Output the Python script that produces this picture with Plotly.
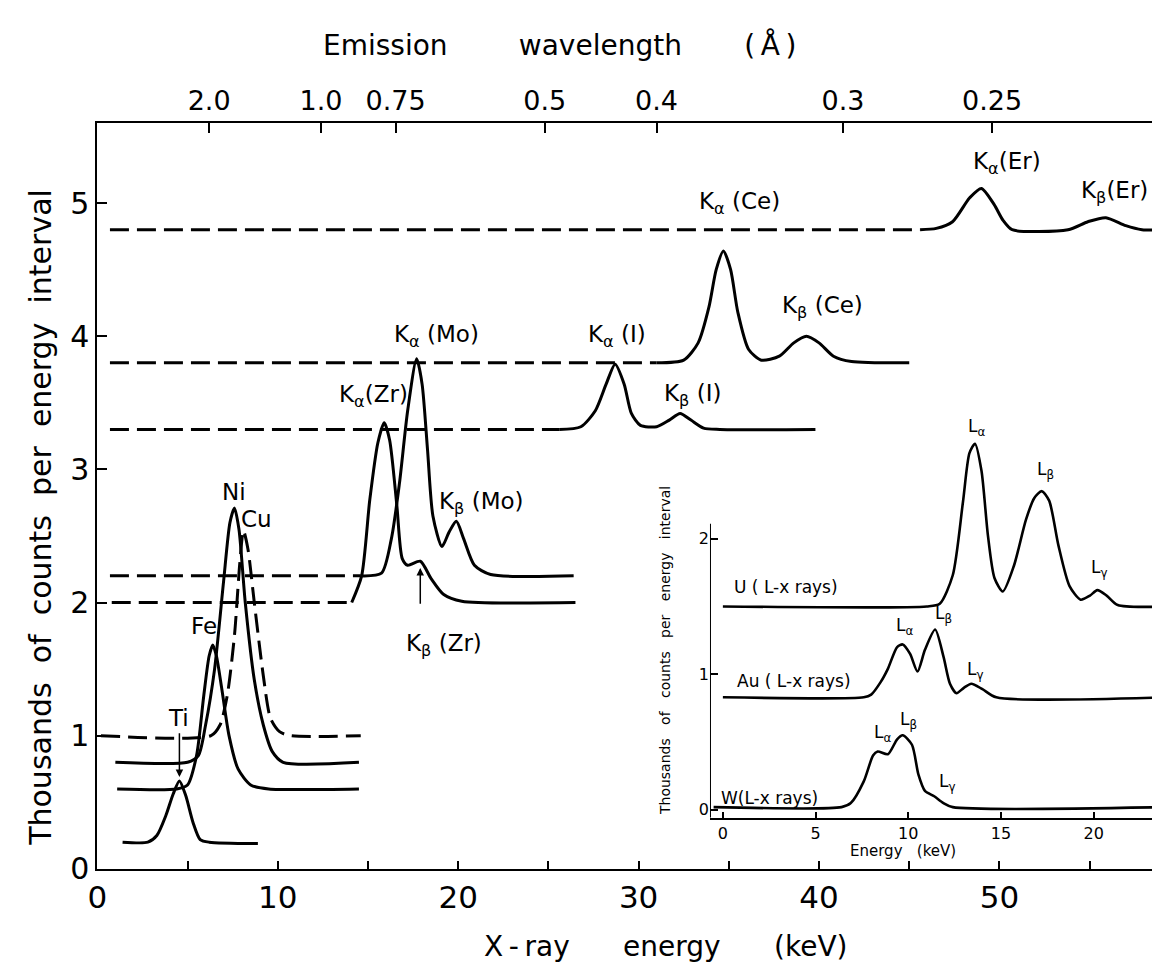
import plotly.graph_objects as go

# ---------------- main panel data (keV, thousands of counts) ----------------
ti_x = [1.4, 2.8, 3.3, 3.8, 4.2, 4.55, 4.9, 5.3, 5.7, 6.2, 8.9]
ti_y = [0.20, 0.20, 0.25, 0.40, 0.56, 0.66, 0.55, 0.35, 0.22, 0.20, 0.19]

fe_x = [1.1, 4.4, 5.0, 5.5, 5.9, 6.2, 6.4, 6.6, 6.9, 7.3, 7.8, 8.5, 9.5, 14.5]
fe_y = [0.60, 0.60, 0.63, 0.85, 1.30, 1.60, 1.68, 1.60, 1.35, 1.00, 0.75, 0.63, 0.60, 0.60]

ni_x = [1.0, 5.0, 5.6, 6.0, 6.5, 7.0, 7.35, 7.6, 7.85, 8.2, 8.7, 9.2, 9.7, 10.3, 14.5]
ni_y = [0.80, 0.80, 0.85, 1.08, 1.50, 2.16, 2.60, 2.71, 2.55, 2.00, 1.42, 1.08, 0.88, 0.80, 0.80]

cu_x = [0.2, 6.3, 6.8, 7.2, 7.6, 7.9, 8.1, 8.35, 8.7, 9.2, 9.6, 10.1, 10.7, 14.6]
cu_y = [1.00, 1.00, 1.08, 1.30, 1.75, 2.30, 2.54, 2.40, 2.00, 1.45, 1.13, 1.03, 1.00, 1.00]

zr_dash_x = [0.8, 14.1]
zr_dash_y = [2.0, 2.0]
zr_x = [14.1, 14.65, 15.1, 15.55, 15.9, 16.2, 16.6, 16.9, 17.2, 17.9, 18.5, 19.2, 20.2, 26.5]
zr_y = [2.00, 2.20, 2.77, 3.20, 3.35, 3.22, 2.73, 2.33, 2.28, 2.31, 2.18, 2.06, 2.01, 2.00]

mo_dash_x = [0.7, 14.6]
mo_dash_y = [2.2, 2.2]
mo_x = [14.6, 15.75, 16.3, 16.75, 17.2, 17.7, 18.0, 18.3, 18.6, 19.1, 19.5, 19.9, 20.3, 20.9, 21.8, 26.4]
mo_y = [2.20, 2.22, 2.48, 2.90, 3.44, 3.83, 3.64, 3.15, 2.65, 2.42, 2.53, 2.61, 2.48, 2.28, 2.21, 2.20]

i_dash_x = [0.7, 25.6]
i_dash_y = [3.3, 3.3]
i_x = [25.6, 26.8, 27.6, 28.2, 28.7, 29.2, 29.6, 30.1, 31.0, 31.7, 32.3, 32.9, 33.6, 34.5, 39.8]
i_y = [3.30, 3.32, 3.44, 3.64, 3.79, 3.64, 3.42, 3.33, 3.32, 3.37, 3.42, 3.37, 3.31, 3.30, 3.30]

ce_dash_x = [0.7, 31.0]
ce_dash_y = [3.8, 3.8]
ce_x = [31.0, 32.5, 33.3, 33.9, 34.3, 34.7, 35.1, 35.5, 36.1, 36.8, 37.8, 38.6, 39.3, 40.0, 40.8, 41.8, 45.0]
ce_y = [3.80, 3.82, 3.95, 4.22, 4.50, 4.64, 4.50, 4.18, 3.90, 3.82, 3.85, 3.95, 4.00, 3.95, 3.85, 3.81, 3.80]

er_dash_x = [0.7, 45.6]
er_dash_y = [4.8, 4.8]
er_x = [45.6, 46.5, 47.4, 48.35, 49.0, 49.7, 50.2, 50.7, 53.8, 54.9, 55.9, 57.0, 57.9, 59.4]
er_y = [4.80, 4.81, 4.86, 5.04, 5.11, 4.99, 4.87, 4.80, 4.80, 4.86, 4.89, 4.83, 4.80, 4.80]

# top axis: emission wavelength (angstrom) -> energy = 12.398 / lambda
wl_vals = [2.0, 1.0, 0.75, 0.5, 0.4, 0.3, 0.25]
wl_text = ["2.0", "1.0", "0.75", "0.5", "0.4", "0.3", "0.25"]

x_major = [0, 10, 20, 30, 40, 50]
y_major = [0, 1, 2, 3, 4, 5]

# ---------------- inset data ----------------
u_x = [0.0, 11.0, 11.7, 12.4, 12.95, 13.3, 13.6, 13.95, 14.3, 14.65, 15.1, 15.7, 16.35, 16.8, 17.2, 17.6,
       18.1, 18.7, 19.3, 19.8, 20.2, 20.7, 21.3, 24.0]
u_y = [1.50, 1.50, 1.52, 1.73, 2.27, 2.63, 2.70, 2.50, 2.02, 1.71, 1.61, 1.80, 2.14, 2.30, 2.35, 2.28,
       1.95, 1.65, 1.55, 1.58, 1.62, 1.58, 1.51, 1.50]

au_x = [0.0, 7.6, 8.0, 8.5, 8.9, 9.4, 9.7, 10.1, 10.5, 10.9, 11.45, 11.9, 12.25, 12.6, 13.0, 13.4, 14.0, 14.75, 24.0]
au_y = [0.83, 0.83, 0.85, 0.94, 1.04, 1.20, 1.22, 1.15, 1.02, 1.18, 1.33, 1.13, 0.93, 0.86, 0.90, 0.93, 0.89, 0.83, 0.83]

w_x = [-0.5, 6.4, 6.9, 7.6, 8.1, 8.35, 8.9, 9.4, 9.7, 10.2, 10.55, 10.9, 11.4, 11.9, 12.4, 24.0]
w_y = [0.02, 0.02, 0.05, 0.21, 0.40, 0.43, 0.41, 0.52, 0.55, 0.48, 0.26, 0.14, 0.10, 0.05, 0.02, 0.02]

inset_x_ticks = [0, 5, 10, 15, 20]
inset_y_ticks = [0, 1, 2]
inset_axis_top = 2.11

FONT = "DejaVu Sans"
NB = "\u00a0"
TH = "\u2009"

fig = go.Figure()


def add(x, y, dash="solid", xa="x", ya="y", w=3.0, smooth=0.7):
    fig.add_trace(go.Scatter(
        x=x, y=y, mode="lines", xaxis=xa, yaxis=ya, showlegend=False, hoverinfo="skip",
        line=dict(color="black", width=w, dash=dash, shape="spline", smoothing=smooth)))


DASH = "19px,8px"
add(ti_x, ti_y)
add(fe_x, fe_y)
add(ni_x, ni_y)
add(cu_x, cu_y, dash=DASH)
add(zr_dash_x, zr_dash_y, dash=DASH)
add(zr_x, zr_y)
add(mo_dash_x, mo_dash_y, dash=DASH)
add(mo_x, mo_y)
add(i_dash_x, i_dash_y, dash=DASH)
add(i_x, i_y)
add(ce_dash_x, ce_dash_y, dash=DASH)
add(ce_x, ce_y)
add(er_dash_x, er_dash_y, dash=DASH)
add(er_x, er_y)

# invisible anchor so the top (wavelength) axis is drawn
fig.add_trace(go.Scatter(x=[12.398 / wl_vals[0]], y=[0], xaxis="x2", yaxis="y", mode="markers",
                         marker=dict(opacity=0), showlegend=False, hoverinfo="skip"))

add(u_x, u_y, xa="x3", ya="y3", w=2.6)
add(au_x, au_y, xa="x3", ya="y3", w=2.6)
add(w_x, w_y, xa="x3", ya="y3", w=2.6)

W, H = 1160, 980
px0, kev_px = 80, 18.2
xmax = (W - px0) / kev_px
y_bot, y_top = 876, 117
ymax = (y_bot - y_top) / 135.5

ins_x0_px, ins_zero_px, ins_kev_px = 698, 711, 18.7
ins_bot, ins_top_dom, ins_unit, ins_zero_y = 824, 400, 138.0, 816
ins_xmin = (ins_x0_px - ins_zero_px) / ins_kev_px
ins_ymin = (ins_zero_y - ins_bot) / ins_unit

ax_common = dict(showgrid=False, zeroline=False, linecolor="black", linewidth=2,
                 ticks="inside", tickcolor="black", tickwidth=2)

fig.update_layout(
    width=W, height=H, margin=dict(l=0, r=0, t=0, b=0),
    paper_bgcolor="white", plot_bgcolor="rgba(0,0,0,0)",
    font=dict(family=FONT, color="black"),
    xaxis=dict(domain=[px0 / W, 1.0], range=[0, xmax], anchor="y", showline=True,
               tickvals=[v for v in range(0, 60, 5)],
               ticktext=[str(v) if v in x_major else "" for v in range(0, 60, 5)],
               ticklen=8, tickfont=dict(size=31, family=FONT), **ax_common),
    xaxis2=dict(overlaying="x", side="top", anchor="y", range=[0, xmax], showline=True,
                tickvals=[12.398 / v for v in wl_vals], ticktext=wl_text,
                ticklen=10, tickfont=dict(size=27, family=FONT), **ax_common),
    yaxis=dict(domain=[(H - y_bot) / H, (H - y_top) / H], range=[0, ymax], anchor="x", showline=True,
               tickvals=y_major, ticktext=[str(v) for v in y_major],
               ticklen=10, tickfont=dict(size=30, family=FONT), **ax_common),
    xaxis3=dict(domain=[ins_x0_px / W, 1.0], anchor="y3", showline=True,
                range=[ins_xmin, (W - ins_zero_px) / ins_kev_px],
                tickvals=inset_x_ticks, ticktext=[str(v) for v in inset_x_ticks],
                ticklen=6, tickfont=dict(size=16, family=FONT), **ax_common),
    yaxis3=dict(domain=[(H - ins_bot) / H, (H - ins_top_dom) / H], anchor="x3", showline=False,
                range=[ins_ymin, (ins_zero_y - ins_top_dom) / ins_unit],
                tickvals=inset_y_ticks, ticktext=[str(v) for v in inset_y_ticks],
                ticklen=8, tickfont=dict(size=16, family=FONT), **ax_common),
)

# inset left axis line (shorter than the inset's plotting height, peaks rise above it)
fig.add_shape(type="line", xref="x3", yref="y3", x0=ins_xmin, x1=ins_xmin, y0=ins_ymin, y1=inset_axis_top,
              line=dict(color="black", width=2))


# ---------------- text ----------------
def note(text, x, y, size=23, xref="x", yref="y", angle=0, xanchor="center"):
    fig.add_annotation(text=text, x=x, y=y, xref=xref, yref=yref, showarrow=False,
                       xanchor=xanchor, yanchor="middle",
                       textangle=angle, font=dict(size=size, family=FONT, color="black"))


note((NB * 2).join("Thousands of counts per energy interval".split(" ")), 22 / W, 1 - 518 / H,
     size=30, xref="paper", yref="paper", angle=-90)
note("X" + TH + "-" + TH + "ray" + NB * 6 + "energy" + NB * 6 + "(keV)", 468 / W, 1 - 955 / H,
     size=28, xref="paper", yref="paper", xanchor="left")
note("Emission" + NB * 8 + "wavelength" + NB * 7 + "(" + TH + "Å" + TH + ")", 306 / W, 1 - 38 / H,
     size=28, xref="paper", yref="paper", xanchor="left")

lab = 23
note("Ti", 4.5, 1.13, size=lab)
note("Fe", 5.93, 1.82, size=lab)
note("Ni", 7.58, 2.83, size=lab)
note("Cu", 8.8, 2.63, size=lab)
note("K<sub>α</sub>(Zr)", 15.3, 3.55, size=lab)
note("K<sub>α</sub>" + NB + "(Mo)", 18.8, 4.0, size=lab)
note("K<sub>β</sub>" + NB + "(Mo)", 21.3, 2.75, size=lab)
note("K<sub>β</sub>" + NB + "(Zr)", 19.2, 1.68, size=lab)
note("K<sub>α</sub>" + NB + "(I)", 28.8, 4.0, size=lab)
note("K<sub>β</sub>" + NB + "(I)", 33.0, 3.56, size=lab)
note("K<sub>α</sub>" + NB + "(Ce)", 35.6, 5.0, size=lab)
note("K<sub>β</sub>" + NB + "(Ce)", 40.2, 4.22, size=lab)
note("K<sub>α</sub>(Er)", 50.4, 5.30, size=lab)
note("K<sub>β</sub>(Er)", 56.4, 5.08, size=lab)

# arrows (Ti and K-beta Zr)
fig.add_annotation(x=4.55, y=0.69, ax=4.55, ay=1.03, xref="x", yref="y", axref="x", ayref="y",
                   text="", showarrow=True, arrowhead=2, arrowsize=1, arrowwidth=1.5, arrowcolor="black")
fig.add_annotation(x=17.9, y=2.26, ax=17.9, ay=1.98, xref="x", yref="y", axref="x", ayref="y",
                   text="", showarrow=True, arrowhead=2, arrowsize=1, arrowwidth=1.5, arrowcolor="black")

# inset text
il = 17
note("U" + NB + "(" + NB + "L-x" + NB + "rays)", 3.4, 1.64, size=17, xref="x3", yref="y3")
note("Au" + NB + "(" + NB + "L-x" + NB + "rays)", 3.85, 0.95, size=17, xref="x3", yref="y3")
note("W(L-x" + NB + "rays)", 2.5, 0.09, size=17, xref="x3", yref="y3")
note("L<sub>α</sub>", 13.7, 2.82, size=il, xref="x3", yref="y3")
note("L<sub>β</sub>", 17.4, 2.50, size=il, xref="x3", yref="y3")
note("L<sub>γ</sub>", 20.3, 1.78, size=il, xref="x3", yref="y3")
note("L<sub>α</sub>", 9.8, 1.35, size=il, xref="x3", yref="y3")
note("L<sub>β</sub>", 11.9, 1.44, size=il, xref="x3", yref="y3")
note("L<sub>γ</sub>", 13.6, 1.03, size=il, xref="x3", yref="y3")
note("L<sub>α</sub>", 8.6, 0.56, size=il, xref="x3", yref="y3")
note("L<sub>β</sub>", 10.0, 0.66, size=il, xref="x3", yref="y3")
note("L<sub>γ</sub>", 12.1, 0.20, size=il, xref="x3", yref="y3")
note((NB * 3).join("Thousands of counts per energy interval".split(" ")),
     652 / W, 1 - 654 / H, size=14, xref="paper", yref="paper", angle=-90)
note("Energy" + NB * 3 + "(keV)", 837 / W, 1 - 858 / H, size=15, xref="paper", yref="paper", xanchor="left")

fig.write_html("out.html")
